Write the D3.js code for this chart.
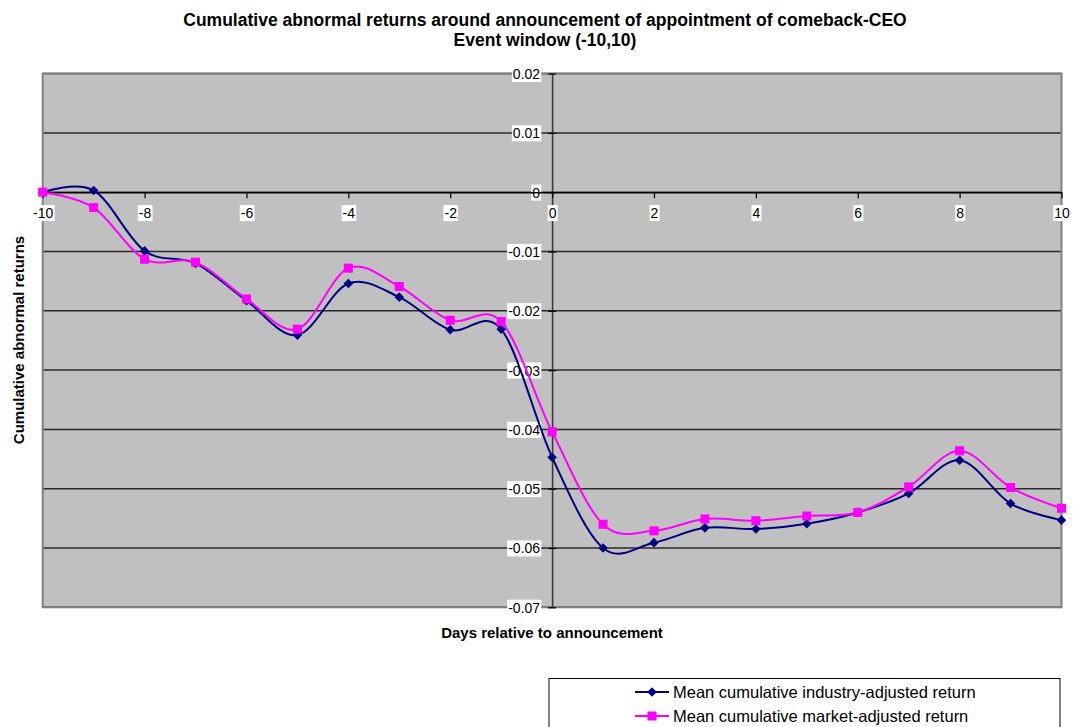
<!DOCTYPE html>
<html>
<head>
<meta charset="utf-8">
<script src="https://d3js.org/d3.v7.min.js"></script>
<style>
  html, body { margin: 0; padding: 0; background: #fff; }
  svg { display: block; }
  text { font-family: "Liberation Sans", Arial, sans-serif; }
</style>
</head>
<body>
<script>
// Event days relative to the announcement
const days = [-10, -9, -8, -7, -6, -5, -4, -3, -2, -1, 0, 1, 2, 3, 4, 5, 6, 7, 8, 9, 10];

// Mean cumulative industry-adjusted return
const industryCAR = [0, 0.0003, -0.0099, -0.0120, -0.0183, -0.0241, -0.0154, -0.0177, -0.0232, -0.0231,
  -0.0447, -0.0600, -0.0591, -0.0566, -0.0568, -0.0559, -0.0540, -0.0508, -0.0452, -0.0525, -0.0553];

// Mean cumulative market-adjusted return
const marketCAR = [0, -0.0026, -0.0113, -0.0118, -0.0180, -0.0231, -0.0128, -0.0159, -0.0216, -0.0218,
  -0.0404, -0.0560, -0.0571, -0.0551, -0.0554, -0.0546, -0.0540, -0.0497, -0.0436, -0.0498, -0.0533];

const xTicks = [-10, -8, -6, -4, -2, 0, 2, 4, 6, 8, 10];
const yTicks = [0.02, 0.01, 0, -0.01, -0.02, -0.03, -0.04, -0.05, -0.06, -0.07];

const seriesNames = ["Mean cumulative industry-adjusted return", "Mean cumulative market-adjusted return"];
const titleLines = ["Cumulative abnormal returns around announcement of appointment of comeback-CEO", "Event window (-10,10)"];

const W = 1073, H = 727;
const plot = { left: 42.7, right: 1061.5, top: 73.6, bottom: 607.3 };

const svg = d3.select("body").append("svg").attr("width", W).attr("height", H);
svg.append("rect").attr("width", W).attr("height", H).attr("fill", "#fff");

const x = d3.scaleLinear().domain([-10, 10]).range([plot.left, plot.right]);
const y = d3.scaleLinear().domain([-0.07, 0.02]).range([plot.bottom, plot.top]);

// Plain hyphen-minus labels
const fmt = d => String(+(+d).toFixed(2));

// Plot area background
svg.append("rect")
  .attr("x", plot.left).attr("y", plot.top)
  .attr("width", plot.right - plot.left).attr("height", plot.bottom - plot.top)
  .attr("fill", "#c0c0c0");

// Horizontal gridlines
svg.append("g").selectAll("line").data(yTicks).join("line")
  .attr("x1", plot.left).attr("x2", plot.right)
  .attr("y1", d => y(d)).attr("y2", d => y(d))
  .attr("stroke", "#2a2a2a").attr("stroke-width", 1.5);

// Plot border
svg.append("rect")
  .attr("x", plot.left).attr("y", plot.top)
  .attr("width", plot.right - plot.left).attr("height", plot.bottom - plot.top)
  .attr("fill", "none").attr("stroke", "#808080").attr("stroke-width", 2);

// Vertical axis crossing at day 0
const yAxis = d3.axisLeft(y).tickValues(yTicks).tickSize(0).tickPadding(0).tickFormat(fmt);
const yAxisG = svg.append("g").attr("transform", `translate(${x(0)},0)`).call(yAxis);
yAxisG.select(".domain").attr("stroke", "#3a3a3a").attr("stroke-width", 1.6);
yAxisG.selectAll(".tick line").remove();
yAxisG.selectAll(".tick").append("line")
  .attr("x1", -4).attr("x2", 4).attr("stroke", "#000").attr("stroke-width", 1.2);

// Horizontal axis crossing at zero
const xAxis = d3.axisBottom(x).tickValues(xTicks).tickSize(0).tickPadding(0).tickFormat(fmt);
const xAxisG = svg.append("g").attr("transform", `translate(0,${y(0)})`).call(xAxis);
xAxisG.select(".domain").attr("stroke", "#000").attr("stroke-width", 1.6);
xAxisG.selectAll(".tick line").remove();
xAxisG.selectAll(".tick").append("line")
  .attr("y1", 0).attr("y2", 6).attr("stroke", "#000").attr("stroke-width", 1.2);

// Tick labels with white boxes behind them
function boxedLabels(g, dx, dy, anchor) {
  g.selectAll(".tick text")
    .attr("fill", "#000")
    .attr("font-size", 14)
    .attr("font-family", "Liberation Sans, Arial, sans-serif")
    .attr("text-anchor", anchor)
    .attr("x", dx).attr("y", dy).attr("dy", "0.35em");
  g.selectAll(".tick").each(function () {
    const t = d3.select(this).select("text");
    const bb = t.node().getBBox();
    d3.select(this).insert("rect", "text")
      .attr("x", bb.x - 1).attr("y", bb.y)
      .attr("width", bb.width + 2).attr("height", bb.height)
      .attr("fill", "#fff");
  });
}
boxedLabels(yAxisG, -12, 0, "end");
boxedLabels(xAxisG, 0, 21, "middle");

// Series lines (smoothed)
const line = d3.line()
  .x((d, i) => x(days[i]))
  .y(d => y(d))
  .curve(d3.curveCatmullRom.alpha(0));

svg.append("path").datum(industryCAR)
  .attr("d", line).attr("fill", "none").attr("stroke", "#000080").attr("stroke-width", 2);
svg.append("path").datum(marketCAR)
  .attr("d", line).attr("fill", "none").attr("stroke", "#ff00ff").attr("stroke-width", 2);

// Markers
const diamond = d3.symbol().type(d3.symbolSquare).size(46);
svg.append("g").selectAll("path").data(industryCAR).join("path")
  .attr("d", diamond())
  .attr("transform", (d, i) => `translate(${x(days[i])},${y(d)}) rotate(45)`)
  .attr("fill", "#000080");

svg.append("g").selectAll("rect").data(marketCAR).join("rect")
  .attr("x", (d, i) => x(days[i]) - 4.5).attr("y", d => y(d) - 4.5)
  .attr("width", 9).attr("height", 9)
  .attr("fill", "#ff00ff");

// Titles
svg.append("g").selectAll("text").data(titleLines).join("text")
  .attr("x", 545).attr("y", (d, i) => 26 + i * 20)
  .attr("text-anchor", "middle")
  .attr("font-size", 17.5).attr("font-weight", "bold")
  .text(d => d);

svg.append("text")
  .attr("x", 552).attr("y", 638)
  .attr("text-anchor", "middle")
  .attr("font-size", 15).attr("font-weight", "bold")
  .text("Days relative to announcement");

svg.append("text")
  .attr("transform", "translate(24,340) rotate(-90)")
  .attr("text-anchor", "middle")
  .attr("font-size", 15).attr("font-weight", "bold")
  .text("Cumulative abnormal returns");

// Legend
const legend = svg.append("g");
legend.append("rect")
  .attr("x", 549).attr("y", 678.5).attr("width", 511).attr("height", 60)
  .attr("fill", "#fff").attr("stroke", "#000").attr("stroke-width", 1);

const legendRows = [692, 716];
seriesNames.forEach((name, i) => {
  const ly = legendRows[i];
  const color = i === 0 ? "#000080" : "#ff00ff";
  legend.append("line")
    .attr("x1", 635).attr("x2", 669).attr("y1", ly).attr("y2", ly)
    .attr("stroke", color).attr("stroke-width", 2);
  if (i === 0) {
    legend.append("path").attr("d", diamond())
      .attr("transform", `translate(652,${ly}) rotate(45)`).attr("fill", color);
  } else {
    legend.append("rect").attr("x", 652 - 4.5).attr("y", ly - 4.5)
      .attr("width", 9).attr("height", 9).attr("fill", color);
  }
  legend.append("text")
    .attr("x", 673).attr("y", ly).attr("dy", "0.35em")
    .attr("font-size", 16.5)
    .text(name);
});
</script>
</body>
</html>
